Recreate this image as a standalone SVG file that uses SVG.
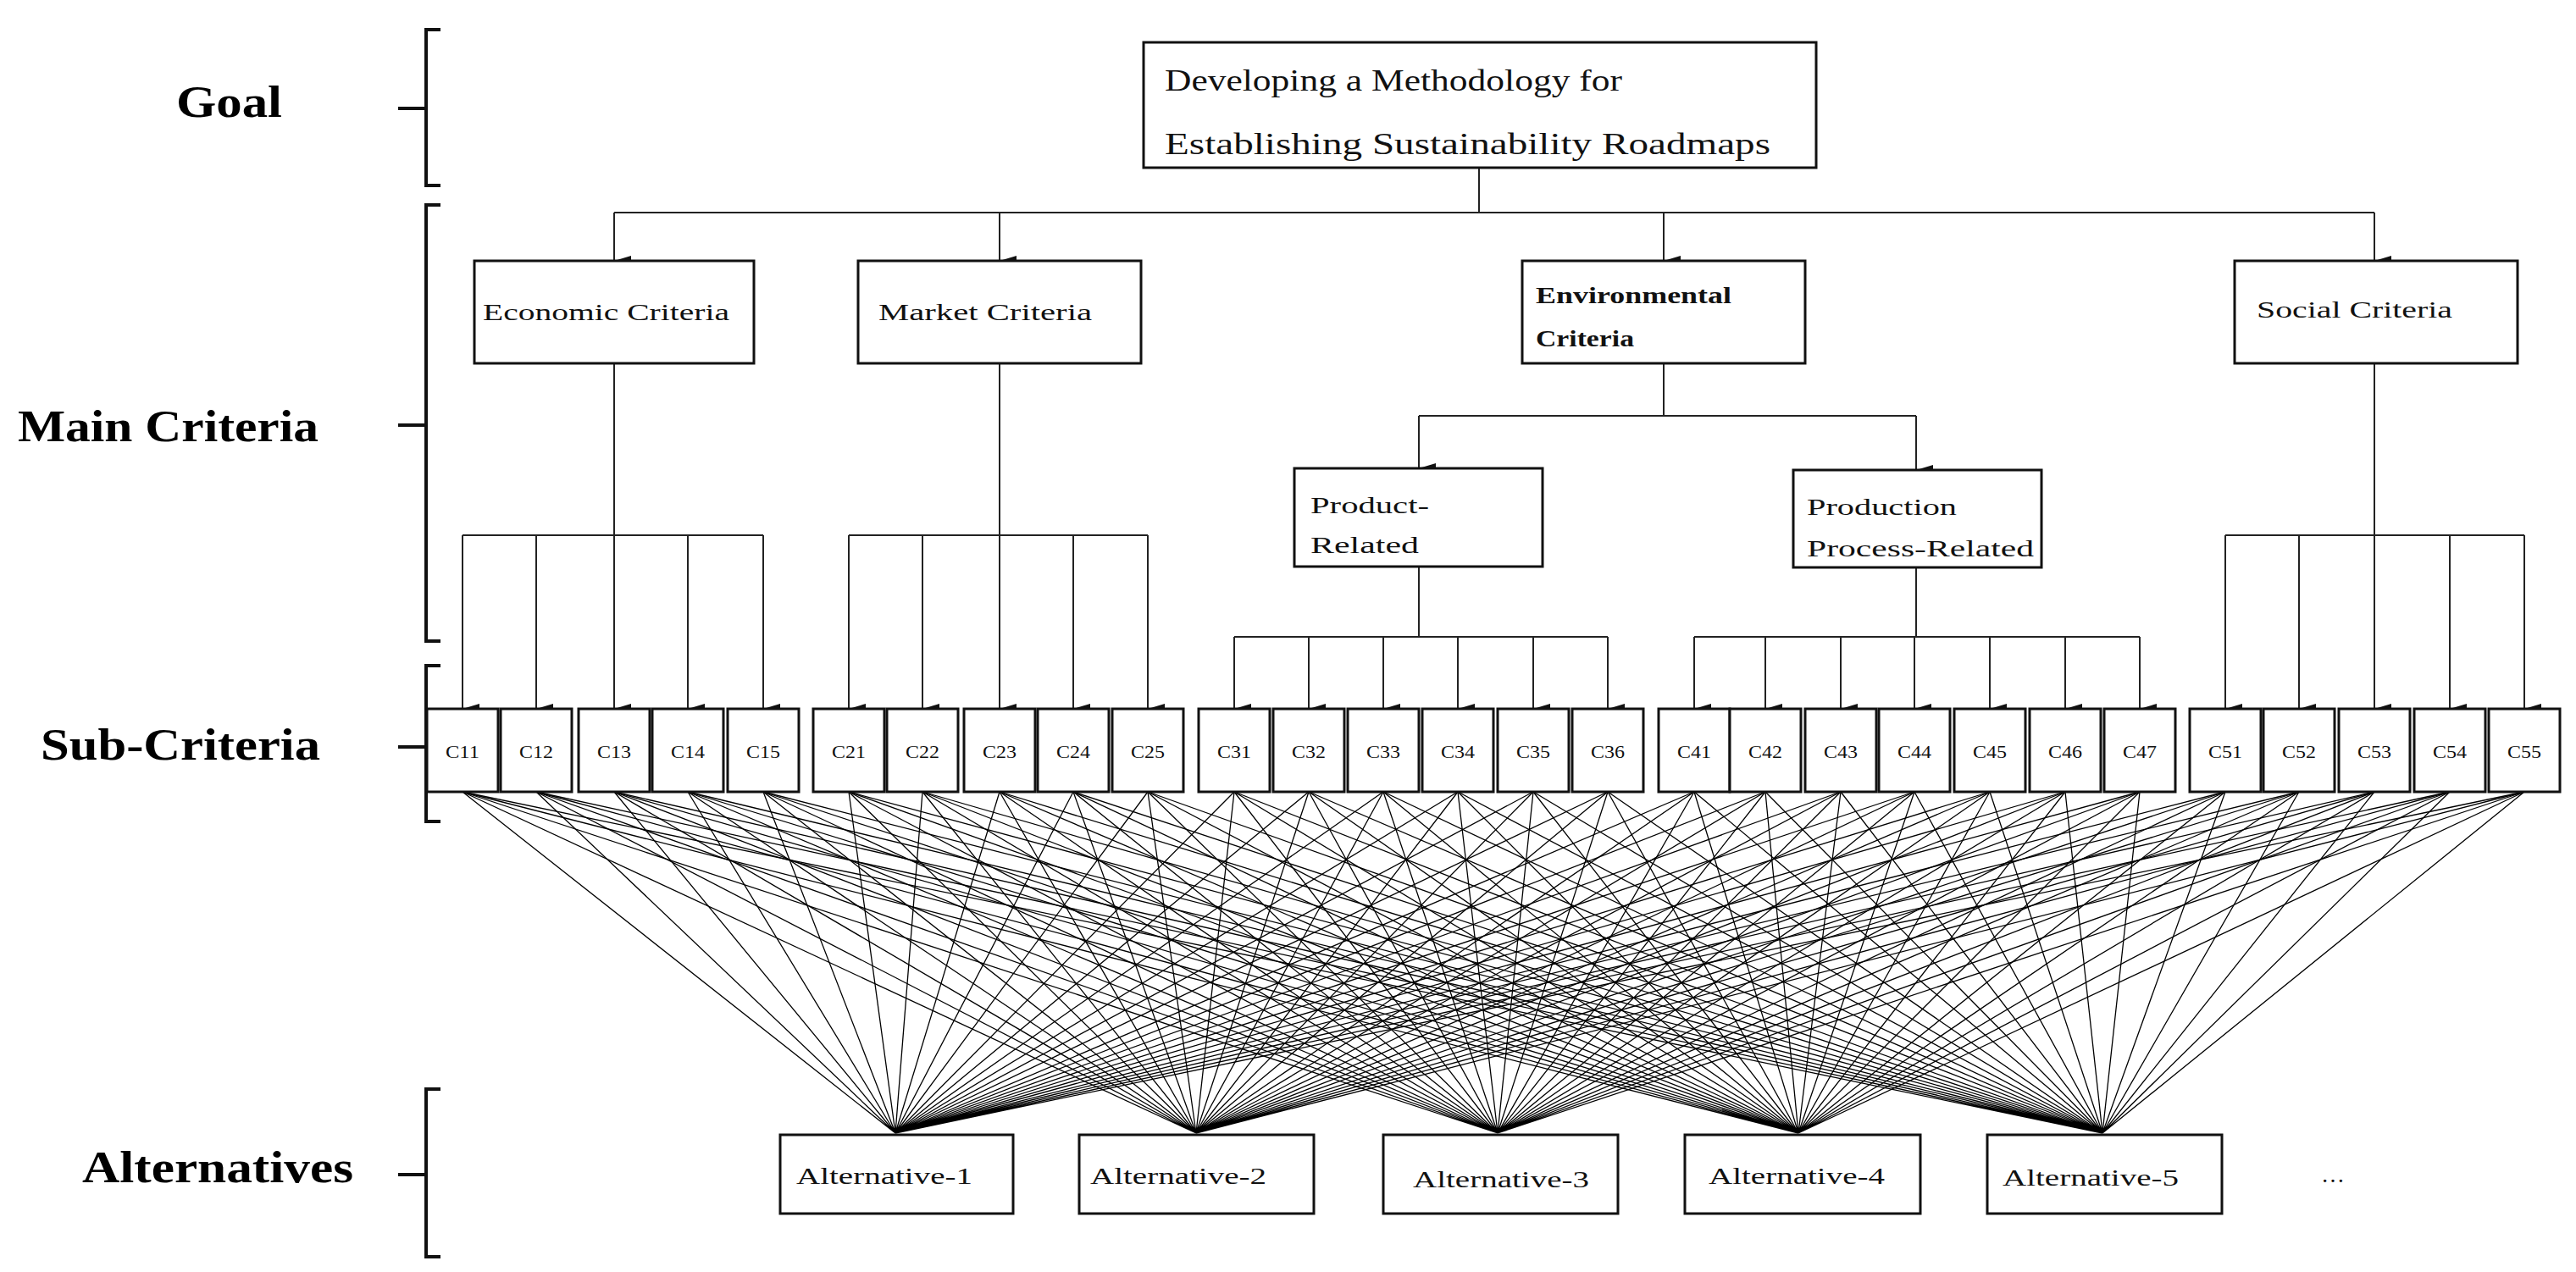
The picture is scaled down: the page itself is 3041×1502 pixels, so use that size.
<svg xmlns="http://www.w3.org/2000/svg" width="3041" height="1502" viewBox="0 0 3041 1502">
<style>
.bx{fill:#fff;stroke:#111;stroke-width:3}
.ln{fill:none;stroke:#222;stroke-width:2}
.fl{fill:none;stroke:#000;stroke-width:1.3}
.br{fill:none;stroke:#111;stroke-width:4}
.t{font-family:"Liberation Serif",serif;fill:#111}
.lb{font-family:"Liberation Serif",serif;font-weight:bold;font-size:52px;fill:#000}
.c{font-family:"Liberation Serif",serif;font-size:22px;fill:#111;text-anchor:middle}
</style>
<defs>
<marker id="ar" markerUnits="userSpaceOnUse" markerWidth="12" markerHeight="20" refX="6" refY="20" orient="auto-start-reverse" viewBox="0 0 12 20">
<path d="M0,0 L12,0 L6,20 Z" fill="#111" transform="rotate(0)"/>
</marker>
</defs>
<rect width="3041" height="1502" fill="#fff"/>
<g id="levels">
<path class="br" d="M520,35 H503 V219 H520 M503,128 H470"/>
<path class="br" d="M520,242 H503 V757 H520 M503,502 H470"/>
<path class="br" d="M520,786 H503 V970 H520 M503,882 H470"/>
<path class="br" d="M520,1286 H503 V1484 H520 M503,1387 H470"/>
<text class="lb" x="208" y="138" textLength="125" lengthAdjust="spacingAndGlyphs">Goal</text>
<text class="lb" x="21" y="521" textLength="355" lengthAdjust="spacingAndGlyphs">Main Criteria</text>
<text class="lb" x="48" y="897" textLength="330" lengthAdjust="spacingAndGlyphs">Sub-Criteria</text>
<text class="lb" x="97" y="1396" textLength="320" lengthAdjust="spacingAndGlyphs">Alternatives</text>
</g>
<g id="connectors">
<path class="ln" d="M1746,198 V251 M725,251 H2803"/>
<path class="ln" marker-end="url(#ar)" d="M725,251 V308"/>
<path class="ln" marker-end="url(#ar)" d="M1180,251 V308"/>
<path class="ln" marker-end="url(#ar)" d="M1964,251 V308"/>
<path class="ln" marker-end="url(#ar)" d="M2803,251 V308"/>
<path class="ln" d="M1964,429 V491 M1675,491 H2262"/>
<path class="ln" marker-end="url(#ar)" d="M1675,491 V553"/>
<path class="ln" marker-end="url(#ar)" d="M2262,491 V555"/>
<path class="ln" d="M725,429 V632 M546,632 H901 M1180,429 V632 M1002,632 H1355 M2803,429 V632 M2627,632 H2980 M1675,669 V752 M1457,752 H1898 M2262,670 V752 M2000,752 H2526"/>
<g marker-end="url(#ar)">
<path class="ln" d="M546,632 V837"/><path class="ln" d="M633,632 V837"/><path class="ln" d="M725,632 V837"/><path class="ln" d="M812,632 V837"/><path class="ln" d="M901,632 V837"/>
<path class="ln" d="M1002,632 V837"/><path class="ln" d="M1089,632 V837"/><path class="ln" d="M1180,632 V837"/><path class="ln" d="M1267,632 V837"/><path class="ln" d="M1355,632 V837"/>
<path class="ln" d="M1457,752 V837"/><path class="ln" d="M1545,752 V837"/><path class="ln" d="M1633,752 V837"/><path class="ln" d="M1721,752 V837"/><path class="ln" d="M1810,752 V837"/><path class="ln" d="M1898,752 V837"/>
<path class="ln" d="M2000,752 V837"/><path class="ln" d="M2084,752 V837"/><path class="ln" d="M2173,752 V837"/><path class="ln" d="M2260,752 V837"/><path class="ln" d="M2349,752 V837"/><path class="ln" d="M2438,752 V837"/><path class="ln" d="M2526,752 V837"/>
<path class="ln" d="M2627,632 V837"/><path class="ln" d="M2714,632 V837"/><path class="ln" d="M2803,632 V837"/><path class="ln" d="M2892,632 V837"/><path class="ln" d="M2980,632 V837"/>
</g>
<path class="fl" d="M546,935L1057,1338M633,935L1057,1338M725,935L1057,1338M812,935L1057,1338M901,935L1057,1338M1002,935L1057,1338M1089,935L1057,1338M1180,935L1057,1338M1267,935L1057,1338M1355,935L1057,1338M1457,935L1057,1338M1545,935L1057,1338M1633,935L1057,1338M1721,935L1057,1338M1810,935L1057,1338M1898,935L1057,1338M2000,935L1057,1338M2084,935L1057,1338M2173,935L1057,1338M2260,935L1057,1338M2349,935L1057,1338M2438,935L1057,1338M2526,935L1057,1338M2627,935L1057,1338M2714,935L1057,1338M2803,935L1057,1338M2892,935L1057,1338M2980,935L1057,1338"/>
<path class="fl" d="M546,935L1412,1338M633,935L1412,1338M725,935L1412,1338M812,935L1412,1338M901,935L1412,1338M1002,935L1412,1338M1089,935L1412,1338M1180,935L1412,1338M1267,935L1412,1338M1355,935L1412,1338M1457,935L1412,1338M1545,935L1412,1338M1633,935L1412,1338M1721,935L1412,1338M1810,935L1412,1338M1898,935L1412,1338M2000,935L1412,1338M2084,935L1412,1338M2173,935L1412,1338M2260,935L1412,1338M2349,935L1412,1338M2438,935L1412,1338M2526,935L1412,1338M2627,935L1412,1338M2714,935L1412,1338M2803,935L1412,1338M2892,935L1412,1338M2980,935L1412,1338"/>
<path class="fl" d="M546,935L1768,1338M633,935L1768,1338M725,935L1768,1338M812,935L1768,1338M901,935L1768,1338M1002,935L1768,1338M1089,935L1768,1338M1180,935L1768,1338M1267,935L1768,1338M1355,935L1768,1338M1457,935L1768,1338M1545,935L1768,1338M1633,935L1768,1338M1721,935L1768,1338M1810,935L1768,1338M1898,935L1768,1338M2000,935L1768,1338M2084,935L1768,1338M2173,935L1768,1338M2260,935L1768,1338M2349,935L1768,1338M2438,935L1768,1338M2526,935L1768,1338M2627,935L1768,1338M2714,935L1768,1338M2803,935L1768,1338M2892,935L1768,1338M2980,935L1768,1338"/>
<path class="fl" d="M546,935L2123,1338M633,935L2123,1338M725,935L2123,1338M812,935L2123,1338M901,935L2123,1338M1002,935L2123,1338M1089,935L2123,1338M1180,935L2123,1338M1267,935L2123,1338M1355,935L2123,1338M1457,935L2123,1338M1545,935L2123,1338M1633,935L2123,1338M1721,935L2123,1338M1810,935L2123,1338M1898,935L2123,1338M2000,935L2123,1338M2084,935L2123,1338M2173,935L2123,1338M2260,935L2123,1338M2349,935L2123,1338M2438,935L2123,1338M2526,935L2123,1338M2627,935L2123,1338M2714,935L2123,1338M2803,935L2123,1338M2892,935L2123,1338M2980,935L2123,1338"/>
<path class="fl" d="M546,935L2482,1338M633,935L2482,1338M725,935L2482,1338M812,935L2482,1338M901,935L2482,1338M1002,935L2482,1338M1089,935L2482,1338M1180,935L2482,1338M1267,935L2482,1338M1355,935L2482,1338M1457,935L2482,1338M1545,935L2482,1338M1633,935L2482,1338M1721,935L2482,1338M1810,935L2482,1338M1898,935L2482,1338M2000,935L2482,1338M2084,935L2482,1338M2173,935L2482,1338M2260,935L2482,1338M2349,935L2482,1338M2438,935L2482,1338M2526,935L2482,1338M2627,935L2482,1338M2714,935L2482,1338M2803,935L2482,1338M2892,935L2482,1338M2980,935L2482,1338"/>
</g>
<g id="goal"><rect class="bx" x="1350" y="50" width="794" height="148"/>
<text class="t" font-size="36" x="1375" y="107" textLength="540" lengthAdjust="spacingAndGlyphs">Developing a Methodology for</text>
<text class="t" font-size="36" x="1375" y="182" textLength="715" lengthAdjust="spacingAndGlyphs">Establishing Sustainability Roadmaps</text></g>
<g id="economic"><rect class="bx" x="560" y="308" width="330" height="121"/><text class="t" font-size="28" x="570" y="378" textLength="291" lengthAdjust="spacingAndGlyphs">Economic Criteria</text></g>
<g id="market"><rect class="bx" x="1013" y="308" width="334" height="121"/><text class="t" font-size="28" x="1037" y="378" textLength="252" lengthAdjust="spacingAndGlyphs">Market Criteria</text></g>
<g id="environmental"><rect class="bx" x="1797" y="308" width="334" height="121"/><text class="t" font-size="28" font-weight="bold" x="1813" y="358" textLength="231" lengthAdjust="spacingAndGlyphs">Environmental</text><text class="t" font-size="28" font-weight="bold" x="1813" y="409" textLength="116" lengthAdjust="spacingAndGlyphs">Criteria</text></g>
<g id="social"><rect class="bx" x="2638" y="308" width="334" height="121"/><text class="t" font-size="28" x="2664" y="375" textLength="231" lengthAdjust="spacingAndGlyphs">Social Criteria</text></g>
<g id="product"><rect class="bx" x="1528" y="553" width="293" height="116"/><text class="t" font-size="28" x="1547" y="606" textLength="140" lengthAdjust="spacingAndGlyphs">Product-</text><text class="t" font-size="28" x="1547" y="653" textLength="128" lengthAdjust="spacingAndGlyphs">Related</text></g>
<g id="production"><rect class="bx" x="2117" y="555" width="293" height="115"/><text class="t" font-size="28" x="2133" y="608" textLength="177" lengthAdjust="spacingAndGlyphs">Production</text><text class="t" font-size="28" x="2133" y="657" textLength="268" lengthAdjust="spacingAndGlyphs">Process-Related</text></g>
<g id="C11"><rect class="bx" x="504" y="837" width="84" height="98"/><text class="c" x="546" y="895" textLength="40" lengthAdjust="spacingAndGlyphs">C11</text></g>
<g id="C12"><rect class="bx" x="591" y="837" width="84" height="98"/><text class="c" x="633" y="895" textLength="40" lengthAdjust="spacingAndGlyphs">C12</text></g>
<g id="C13"><rect class="bx" x="683" y="837" width="84" height="98"/><text class="c" x="725" y="895" textLength="40" lengthAdjust="spacingAndGlyphs">C13</text></g>
<g id="C14"><rect class="bx" x="770" y="837" width="84" height="98"/><text class="c" x="812" y="895" textLength="40" lengthAdjust="spacingAndGlyphs">C14</text></g>
<g id="C15"><rect class="bx" x="859" y="837" width="84" height="98"/><text class="c" x="901" y="895" textLength="40" lengthAdjust="spacingAndGlyphs">C15</text></g>
<g id="C21"><rect class="bx" x="960" y="837" width="84" height="98"/><text class="c" x="1002" y="895" textLength="40" lengthAdjust="spacingAndGlyphs">C21</text></g>
<g id="C22"><rect class="bx" x="1047" y="837" width="84" height="98"/><text class="c" x="1089" y="895" textLength="40" lengthAdjust="spacingAndGlyphs">C22</text></g>
<g id="C23"><rect class="bx" x="1138" y="837" width="84" height="98"/><text class="c" x="1180" y="895" textLength="40" lengthAdjust="spacingAndGlyphs">C23</text></g>
<g id="C24"><rect class="bx" x="1225" y="837" width="84" height="98"/><text class="c" x="1267" y="895" textLength="40" lengthAdjust="spacingAndGlyphs">C24</text></g>
<g id="C25"><rect class="bx" x="1313" y="837" width="84" height="98"/><text class="c" x="1355" y="895" textLength="40" lengthAdjust="spacingAndGlyphs">C25</text></g>
<g id="C31"><rect class="bx" x="1415" y="837" width="84" height="98"/><text class="c" x="1457" y="895" textLength="40" lengthAdjust="spacingAndGlyphs">C31</text></g>
<g id="C32"><rect class="bx" x="1503" y="837" width="84" height="98"/><text class="c" x="1545" y="895" textLength="40" lengthAdjust="spacingAndGlyphs">C32</text></g>
<g id="C33"><rect class="bx" x="1591" y="837" width="84" height="98"/><text class="c" x="1633" y="895" textLength="40" lengthAdjust="spacingAndGlyphs">C33</text></g>
<g id="C34"><rect class="bx" x="1679" y="837" width="84" height="98"/><text class="c" x="1721" y="895" textLength="40" lengthAdjust="spacingAndGlyphs">C34</text></g>
<g id="C35"><rect class="bx" x="1768" y="837" width="84" height="98"/><text class="c" x="1810" y="895" textLength="40" lengthAdjust="spacingAndGlyphs">C35</text></g>
<g id="C36"><rect class="bx" x="1856" y="837" width="84" height="98"/><text class="c" x="1898" y="895" textLength="40" lengthAdjust="spacingAndGlyphs">C36</text></g>
<g id="C41"><rect class="bx" x="1958" y="837" width="84" height="98"/><text class="c" x="2000" y="895" textLength="40" lengthAdjust="spacingAndGlyphs">C41</text></g>
<g id="C42"><rect class="bx" x="2042" y="837" width="84" height="98"/><text class="c" x="2084" y="895" textLength="40" lengthAdjust="spacingAndGlyphs">C42</text></g>
<g id="C43"><rect class="bx" x="2131" y="837" width="84" height="98"/><text class="c" x="2173" y="895" textLength="40" lengthAdjust="spacingAndGlyphs">C43</text></g>
<g id="C44"><rect class="bx" x="2218" y="837" width="84" height="98"/><text class="c" x="2260" y="895" textLength="40" lengthAdjust="spacingAndGlyphs">C44</text></g>
<g id="C45"><rect class="bx" x="2307" y="837" width="84" height="98"/><text class="c" x="2349" y="895" textLength="40" lengthAdjust="spacingAndGlyphs">C45</text></g>
<g id="C46"><rect class="bx" x="2396" y="837" width="84" height="98"/><text class="c" x="2438" y="895" textLength="40" lengthAdjust="spacingAndGlyphs">C46</text></g>
<g id="C47"><rect class="bx" x="2484" y="837" width="84" height="98"/><text class="c" x="2526" y="895" textLength="40" lengthAdjust="spacingAndGlyphs">C47</text></g>
<g id="C51"><rect class="bx" x="2585" y="837" width="84" height="98"/><text class="c" x="2627" y="895" textLength="40" lengthAdjust="spacingAndGlyphs">C51</text></g>
<g id="C52"><rect class="bx" x="2672" y="837" width="84" height="98"/><text class="c" x="2714" y="895" textLength="40" lengthAdjust="spacingAndGlyphs">C52</text></g>
<g id="C53"><rect class="bx" x="2761" y="837" width="84" height="98"/><text class="c" x="2803" y="895" textLength="40" lengthAdjust="spacingAndGlyphs">C53</text></g>
<g id="C54"><rect class="bx" x="2850" y="837" width="84" height="98"/><text class="c" x="2892" y="895" textLength="40" lengthAdjust="spacingAndGlyphs">C54</text></g>
<g id="C55"><rect class="bx" x="2938" y="837" width="84" height="98"/><text class="c" x="2980" y="895" textLength="40" lengthAdjust="spacingAndGlyphs">C55</text></g>
<g id="alt1"><rect class="bx" x="921" y="1340" width="275" height="93"/><text class="t" font-size="28" x="940" y="1398" textLength="208" lengthAdjust="spacingAndGlyphs">Alternative-1</text></g>
<g id="alt2"><rect class="bx" x="1274" y="1340" width="277" height="93"/><text class="t" font-size="28" x="1287" y="1398" textLength="208" lengthAdjust="spacingAndGlyphs">Alternative-2</text></g>
<g id="alt3"><rect class="bx" x="1633" y="1340" width="277" height="93"/><text class="t" font-size="28" x="1668" y="1402" textLength="208" lengthAdjust="spacingAndGlyphs">Alternative-3</text></g>
<g id="alt4"><rect class="bx" x="1989" y="1340" width="278" height="93"/><text class="t" font-size="28" x="2017" y="1398" textLength="208" lengthAdjust="spacingAndGlyphs">Alternative-4</text></g>
<g id="alt5"><rect class="bx" x="2346" y="1340" width="277" height="93"/><text class="t" font-size="28" x="2364" y="1400" textLength="208" lengthAdjust="spacingAndGlyphs">Alternative-5</text></g>
<text class="t" font-size="28" x="2740" y="1396">…</text>
</svg>
